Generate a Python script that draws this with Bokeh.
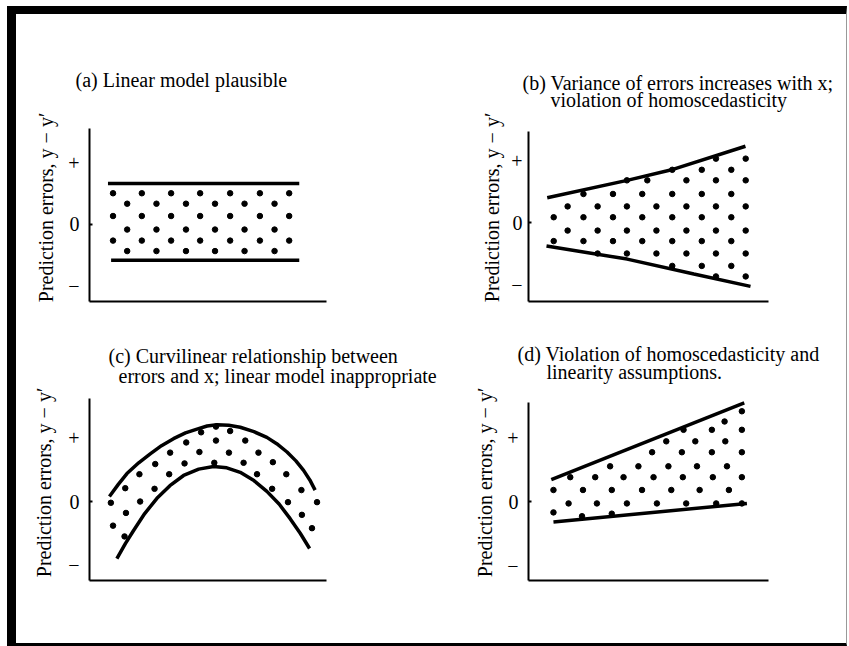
from bokeh.plotting import figure
from bokeh.models import Range1d, FixedTicker, Label, Title
from bokeh.layouts import row, column
from bokeh.embed import file_html
from bokeh.resources import INLINE

FONT = "Liberation Serif"

# y-axis ticks shared by all panels
TICKS = [-1, 0, 1]
TICK_LABELS = ["\u2212", "0", "+"]
Y_LABEL = "Prediction errors, y \u2212 y\u2032"

# ---------------- panel (a) ----------------
a_title = ["(a) Linear model plausible"]
a_dot_x = [0.98, 2.18, 3.40, 4.61, 5.86, 7.10, 8.32,
           1.57, 2.79, 4.02, 5.23, 6.46, 7.71,
           0.98, 2.18, 3.40, 4.61, 5.86, 7.10, 8.32,
           1.57, 2.79, 4.02, 5.23, 6.46, 7.71,
           0.98, 2.18, 3.40, 4.61, 5.86, 7.10, 8.32,
           1.57, 2.79, 4.02, 5.23, 6.46, 7.71]
a_dot_y = [0.50, 0.50, 0.50, 0.50, 0.50, 0.50, 0.50,
           0.33, 0.33, 0.33, 0.33, 0.33, 0.33,
           0.13, 0.13, 0.13, 0.13, 0.13, 0.13, 0.13,
           -0.09, -0.09, -0.09, -0.09, -0.09, -0.09,
           -0.27, -0.27, -0.27, -0.27, -0.27, -0.27, -0.27,
           -0.44, -0.44, -0.44, -0.44, -0.44, -0.44]
a_upper_x = [0.77, 8.74]
a_upper_y = [0.66, 0.66]
a_lower_x = [0.90, 8.74]
a_lower_y = [-0.59, -0.59]

# ---------------- panel (b) ----------------
b_title = ["(b) Variance of errors increases with x;", "violation of homoscedasticity"]
b_dot_x = [7.81, 9.05,
           5.99, 7.22, 8.45,
           4.10, 4.95, 6.58, 7.81, 9.05,
           2.29, 3.52, 4.74, 5.99, 7.22, 8.45,
           1.63, 2.88, 4.10, 5.33, 6.58, 7.81, 9.05,
           1.05, 2.29, 3.52, 4.74, 5.99, 7.22, 8.45,
           1.63, 2.88, 4.10, 5.33, 6.58, 7.81, 9.05,
           1.05, 2.29, 3.52, 4.74, 5.99, 7.22, 8.45,
           2.88, 4.10, 5.33, 6.58, 7.81, 9.05,
           5.99, 7.22, 8.45,
           7.81, 9.05]
b_dot_y = [1.03, 1.03,
           0.85, 0.85, 0.85,
           0.68, 0.68, 0.68, 0.68, 0.68,
           0.46, 0.46, 0.46, 0.46, 0.46, 0.46,
           0.26, 0.26, 0.26, 0.26, 0.26, 0.26, 0.26,
           0.085, 0.085, 0.085, 0.085, 0.085, 0.085, 0.085,
           -0.13, -0.13, -0.13, -0.13, -0.13, -0.13, -0.13,
           -0.30, -0.30, -0.30, -0.30, -0.30, -0.30, -0.30,
           -0.50, -0.50, -0.50, -0.50, -0.50, -0.50,
           -0.70, -0.70, -0.70,
           -0.87, -0.87]
b_upper_x = [0.78, 4.11, 6.05, 9.04]
b_upper_y = [0.40, 0.68, 0.86, 1.23]
b_lower_x = [0.75, 4.11, 6.89, 9.25]
b_lower_y = [-0.38, -0.59, -0.83, -1.03]

# ---------------- panel (c) ----------------
c_title = ["(c) Curvilinear relationship between",
           "errors and x; linear model inappropriate"]
c_dot_x = [4.65, 5.27, 5.86, 4.03, 5.27, 6.49, 3.36, 4.58, 5.81, 7.04,
           2.74, 3.96, 5.20, 6.42, 7.64, 2.08, 3.32, 6.98, 8.20,
           1.49, 2.71, 7.61, 8.83, 0.89, 2.11, 8.27, 9.48,
           1.52, 8.85, 0.98, 9.27, 1.46]
c_dot_y = [1.09, 1.18, 1.11, 0.93, 0.96, 0.96, 0.77, 0.78, 0.77, 0.77,
           0.59, 0.60, 0.61, 0.61, 0.62, 0.43, 0.43, 0.43, 0.43,
           0.21, 0.20, 0.20, 0.18, -0.02, 0.00, -0.01, -0.01,
           -0.18, -0.21, -0.38, -0.42, -0.55]
c_upper_x = [0.83, 1.20, 1.56, 2.05, 2.53, 3.00, 3.50, 4.00, 4.48, 4.90, 5.31,
             5.80, 6.28, 6.85, 7.39, 7.80, 8.23, 8.60, 8.92, 9.18, 9.40]
c_upper_y = [0.08, 0.27, 0.44, 0.61, 0.75, 0.88, 0.99, 1.08, 1.14, 1.19, 1.21,
             1.20, 1.17, 1.10, 1.01, 0.91, 0.78, 0.64, 0.49, 0.34, 0.18]
c_lower_x = [1.14, 1.50, 1.83, 2.30, 2.81, 3.35, 3.92, 4.55, 5.17, 5.72, 6.28,
             6.85, 7.39, 7.90, 8.36, 8.78, 9.17]
c_lower_y = [-0.90, -0.66, -0.46, -0.19, 0.05, 0.25, 0.41, 0.51, 0.55, 0.53, 0.46,
             0.33, 0.16, -0.04, -0.27, -0.50, -0.74]

# ---------------- panel (d) ----------------
d_title = ["(d) Violation of homoscedasticity and", "linearity assumptions."]
d_dot_x = [8.89, 8.17,
           6.46, 7.64, 8.89,
           5.74, 6.95, 8.20,
           5.15, 6.39, 7.64, 8.89,
           3.40, 4.58, 5.83, 7.02, 8.27,
           1.74, 2.78, 3.96, 5.21, 6.43, 7.68, 8.89,
           1.04, 2.27, 3.47, 4.73, 5.95, 7.13, 8.35,
           1.67, 2.85, 4.10, 5.35, 6.57, 7.82, 8.89,
           1.04, 2.23, 3.47]
d_dot_y = [1.41, 1.25,
           1.12, 1.12, 1.12,
           0.94, 0.94, 0.94,
           0.77, 0.77, 0.77, 0.77,
           0.55, 0.55, 0.55, 0.55, 0.55,
           0.38, 0.38, 0.38, 0.38, 0.38, 0.38, 0.38,
           0.18, 0.18, 0.18, 0.18, 0.18, 0.18, 0.18,
           -0.03, -0.03, -0.03, -0.03, -0.03, -0.03, -0.03,
           -0.17, -0.23, -0.19]
d_upper_x = [0.95, 8.99]
d_upper_y = [0.34, 1.54]
d_lower_x = [1.04, 9.10]
d_lower_y = [-0.32, -0.03]


def panel(width, height, borders, x_end, y_range, y_axis_top, titles,
          title_offsets, title_standoffs, label_standoff, axis_label_standoff,
          dots, upper, lower):
    left, right, top, bottom = borders
    p = figure(width=width, height=height, output_backend="svg",
               toolbar_location=None,
               x_range=Range1d(0, x_end), y_range=Range1d(*y_range),
               min_border_left=left, min_border_right=right,
               min_border_top=top, min_border_bottom=bottom)
    p.outline_line_color = None
    p.grid.visible = False
    p.background_fill_color = "white"
    p.border_fill_color = "white"

    xa = p.xaxis[0]
    xa.ticker = FixedTicker(ticks=[])
    xa.axis_line_width = 2
    xa.axis_line_color = "black"
    xa.major_tick_line_color = None
    xa.minor_tick_line_color = None
    xa.major_label_text_font_size = "0px"

    ya = p.yaxis[0]
    ya.ticker = FixedTicker(ticks=TICKS, minor_ticks=[0])
    ya.major_label_overrides = dict(zip(TICKS, TICK_LABELS))
    ya.bounds = (y_range[0], y_axis_top)
    ya.axis_line_width = 2
    ya.axis_line_color = "black"
    ya.major_tick_in = 0
    ya.major_tick_out = 0
    ya.minor_tick_in = 3
    ya.minor_tick_out = 0
    ya.minor_tick_line_width = 2
    ya.minor_tick_line_color = "black"
    ya.major_label_standoff = label_standoff
    ya.major_label_text_font = FONT
    ya.major_label_text_font_size = "20px"
    ya.major_label_text_color = "black"
    ya.axis_label = Y_LABEL
    ya.axis_label_standoff = axis_label_standoff
    ya.axis_label_text_font = FONT
    ya.axis_label_text_font_size = "20px"
    ya.axis_label_text_font_style = "normal"
    ya.axis_label_text_color = "black"

    # titles: closest line to the frame is added first
    for text, off, so in reversed(list(zip(titles, title_offsets, title_standoffs))):
        p.add_layout(Title(text=text, align="left", offset=off, standoff=so,
                           text_font=FONT, text_font_size="20px",
                           text_font_style="normal", text_color="black"), "above")

    p.line(upper[0], upper[1], line_width=3.5, line_color="black")
    p.line(lower[0], lower[1], line_width=3.5, line_color="black")
    p.scatter(dots[0], dots[1], size=5.5, color="black")

    p.add_layout(Label(x=x_end, y=y_range[0], text="x", x_offset=13,
                       text_align="left", text_baseline="middle",
                       text_font=FONT, text_font_size="20px",
                       text_font_style="italic", text_color="black"))
    return p


pa = panel(434, 306, (73, 124, 99, 19), 9.875, (-1.26, 1.797), 1.553,
           a_title, [-14], [45], 10, 8,
           (a_dot_x, a_dot_y), (a_upper_x, a_upper_y), (a_lower_x, a_lower_y))
pb = panel(396, 306, (78, 78, 99, 19), 10.0, (-1.274, 1.758), 1.473,
           b_title, [-6, 22], [-19, 5], 6, 5,
           (b_dot_x, b_dot_y), (b_upper_x, b_upper_y), (b_lower_x, b_lower_y))
pc = panel(434, 323, (73, 124, 64, 63), 9.875, (-1.244, 1.843), 1.617,
           c_title, [19, 29], [-5, -4], 10, 10,
           (c_dot_x, c_dot_y), (c_upper_x, c_upper_y), (c_lower_x, c_lower_y))
pd = panel(396, 323, (78, 78, 64, 63), 10.0, (-1.234, 1.828), 1.547,
           d_title, [-11, 18], [-16, 4], 10, 8,
           (d_dot_x, d_dot_y), (d_upper_x, d_upper_y), (d_lower_x, d_lower_y))

layout = column(row(pa, pb), row(pc, pd),
                styles={"margin-left": "7px", "margin-top": "6px",
                        "border-top": "8px solid black",
                        "border-left": "9px solid black",
                        "border-bottom": "3px solid black",
                        "border-right": "1px solid #999999"})

open("out.html", "w").write(file_html(layout, INLINE))
